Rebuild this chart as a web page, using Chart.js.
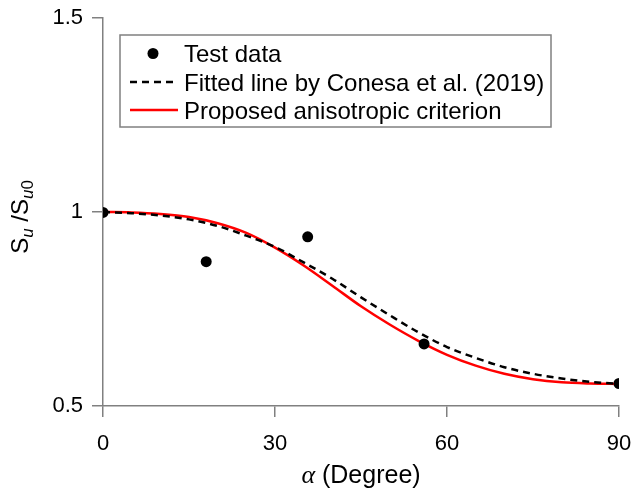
<!DOCTYPE html>
<html><head><meta charset="utf-8">
<script src="https://cdn.jsdelivr.net/npm/chart.js@4"></script>
<style>html,body{margin:0;padding:0;background:#fff}#wrap{width:634px;height:492px}</style>
</head><body><div id="wrap"><canvas id="c" width="634" height="492"></canvas></div>
<script>
// ---- data ----
const testAlpha = [0, 18, 35.7, 56, 90];
const testRatio = [0.999, 0.872, 0.936, 0.660, 0.558];

const conesaAlpha = [0, 5, 10, 15, 20, 25, 30, 35, 40, 45, 50, 55, 60, 65, 70, 75, 80, 85, 90];
const conesaRatio = [1.000, 0.997, 0.991, 0.981, 0.964, 0.939, 0.910, 0.870, 0.828, 0.780, 0.734, 0.690, 0.652, 0.624, 0.600, 0.583, 0.571, 0.562, 0.557];

const proposedAlpha = [0, 5, 10, 15, 20, 25, 30, 35, 40, 45, 50, 55, 60, 65, 70, 75, 80, 85, 90];
const proposedRatio = [1.000, 0.999, 0.995, 0.987, 0.971, 0.946, 0.908, 0.862, 0.810, 0.757, 0.710, 0.668, 0.632, 0.604, 0.583, 0.569, 0.561, 0.558, 0.557];

const xTickValues = [0, 30, 60, 90];
const yTickValues = [0.5, 1, 1.5];
const legendLabels = ['Test data', 'Fitted line by Conesa et al. (2019)', 'Proposed anisotropic criterion'];
const xTitleSymbol = 'α';
const xTitleText = ' (Degree)';

const AXIS = '#808080';
const zip = (xs, ys) => xs.map((x, i) => ({x: x, y: ys[i]}));

const legendPlugin = {
  id: 'boxLegend',
  afterDraw(chart) {
    const ctx = chart.ctx;
    ctx.save();
    ctx.strokeStyle = AXIS;
    ctx.lineWidth = 1.5;
    ctx.strokeRect(120, 35, 431, 92);
    ctx.fillStyle = '#000';
    ctx.font = '24px "Liberation Sans", Arial, sans-serif';
    ctx.textBaseline = 'alphabetic';
    ctx.textAlign = 'left';
    const baselines = [62, 90.5, 118.5];
    const ds = chart.data.datasets;
    ctx.beginPath();
    ctx.arc(153, 53.5, 5.5, 0, Math.PI * 2);
    ctx.fillStyle = ds[0].pointBackgroundColor;
    ctx.fill();
    ctx.beginPath();
    ctx.setLineDash(ds[1].borderDash);
    ctx.strokeStyle = ds[1].borderColor;
    ctx.lineWidth = ds[1].borderWidth;
    ctx.moveTo(130, 82); ctx.lineTo(178, 82);
    ctx.stroke();
    ctx.setLineDash([]);
    ctx.beginPath();
    ctx.strokeStyle = ds[2].borderColor;
    ctx.lineWidth = ds[2].borderWidth;
    ctx.moveTo(130, 110); ctx.lineTo(178, 110);
    ctx.stroke();
    ctx.fillStyle = '#000';
    legendLabels.forEach((t, i) => ctx.fillText(t, 184, baselines[i]));

    // x title
    const xs = chart.scales.x;
    const cx = (xs.left + xs.right) / 2;
    ctx.font = 'italic 26px "Liberation Serif", "DejaVu Serif", serif';
    const w1 = ctx.measureText(xTitleSymbol).width;
    ctx.font = '25px "Liberation Sans", Arial, sans-serif';
    const w2 = ctx.measureText(xTitleText).width;
    let x0 = cx - (w1 + w2) / 2;
    ctx.font = 'italic 26px "Liberation Serif", "DejaVu Serif", serif';
    ctx.fillText(xTitleSymbol, x0, 483);
    ctx.font = '25px "Liberation Sans", Arial, sans-serif';
    ctx.fillText(xTitleText, x0 + w1, 483);

    // y title S_u / S_u0
    const segs = [
      {t: 'S', f: '24px "Liberation Sans", Arial, sans-serif', dy: 0},
      {t: 'u', f: 'italic 17px "Liberation Sans", Arial, sans-serif', dy: 5},
      {t: ' /', f: '24px "Liberation Sans", Arial, sans-serif', dy: 0},
      {t: 'S', f: '24px "Liberation Sans", Arial, sans-serif', dy: 0},
      {t: 'u', f: 'italic 17px "Liberation Sans", Arial, sans-serif', dy: 5},
      {t: '0', f: '17px "Liberation Sans", Arial, sans-serif', dy: 5}
    ];
    let total = 0;
    segs.forEach(s => { ctx.font = s.f; s.w = ctx.measureText(s.t).width; total += s.w; });
    ctx.translate(28, 217 + total / 2);
    ctx.rotate(-Math.PI / 2);
    let px = 0;
    segs.forEach(s => { ctx.font = s.f; ctx.fillText(s.t, px, s.dy); px += s.w; });
    ctx.restore();
  }
};

new Chart(document.getElementById('c'), {
  type: 'scatter',
  data: {
    datasets: [
      {
        label: legendLabels[0],
        data: zip(testAlpha, testRatio),
        pointRadius: 5.5,
        pointBackgroundColor: '#000',
        pointBorderColor: '#000',
        pointBorderWidth: 0,
        showLine: false
      },
      {
        label: legendLabels[1],
        data: zip(conesaAlpha, conesaRatio),
        showLine: true,
        borderColor: '#000',
        borderWidth: 2.5,
        borderDash: [7, 5],
        pointRadius: 0,
        cubicInterpolationMode: 'monotone',
        fill: false
      },
      {
        label: legendLabels[2],
        data: zip(proposedAlpha, proposedRatio),
        showLine: true,
        borderColor: '#ff0000',
        borderWidth: 2.5,
        pointRadius: 0,
        cubicInterpolationMode: 'monotone',
        fill: false
      }
    ]
  },
  options: {
    responsive: false,
    devicePixelRatio: 1,
    animation: false,
    layout: {padding: {top: 18, right: 15, left: 0, bottom: 0}},
    plugins: {legend: {display: false}, tooltip: {enabled: false}},
    scales: {
      x: {
        type: 'linear', min: 0, max: 90,
        afterBuildTicks: s => { s.ticks = xTickValues.map(v => ({value: v})); },
        afterFit: s => { s.height = 86; s.paddingLeft = 0; s.paddingRight = 0; },
        grid: {display: true, drawOnChartArea: false, drawTicks: true, tickLength: 11, color: AXIS, lineWidth: 1.5},
        border: {display: true, color: AXIS, width: 1.5},
        ticks: {font: {size: 22, family: '"Liberation Sans", Arial, sans-serif'}, color: '#000', padding: 14, maxRotation: 0, callback: v => String(v)}
      },
      y: {
        type: 'linear', min: 0.5, max: 1.5,
        afterBuildTicks: s => { s.ticks = yTickValues.map(v => ({value: v})); },
        afterFit: s => { s.width = 103; s.paddingTop = 0; s.paddingBottom = 0; },
        grid: {display: true, drawOnChartArea: false, drawTicks: true, tickLength: 11, color: AXIS, lineWidth: 1.5},
        border: {display: true, color: AXIS, width: 1.5},
        ticks: {font: {size: 22, family: '"Liberation Sans", Arial, sans-serif'}, color: '#000', padding: 9, callback: v => String(v)}
      }
    }
  },
  plugins: [legendPlugin]
});
</script>
</body></html>
